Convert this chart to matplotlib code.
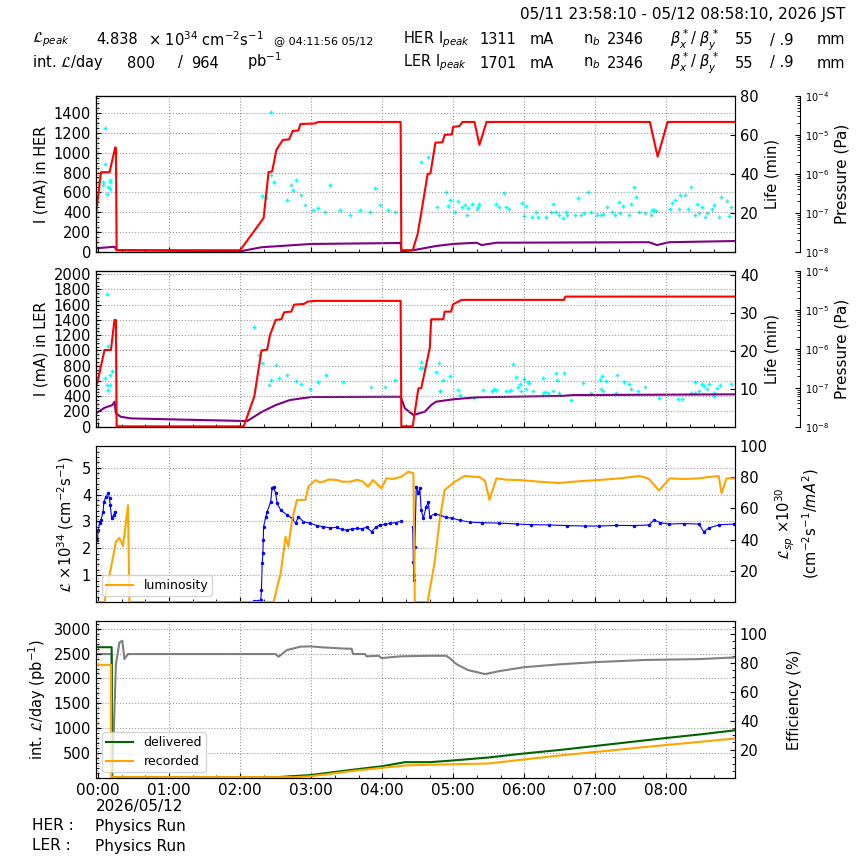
import matplotlib
matplotlib.use('Agg')
import matplotlib.pyplot as plt
from matplotlib.ticker import AutoMinorLocator, MultipleLocator, FixedLocator, LogLocator, NullFormatter, FuncFormatter

plt.rcParams['font.size'] = 10.5
plt.rcParams['mathtext.fontset'] = 'dejavusans'

nan = float('nan')

# ---- data (time in hours from 05/12 00:00) ----
her_I_t = [-0.03, 0.04, 0.16, 0.24, 0.25, 0.26, 2.0, 2.33, 2.40, 2.45, 2.51, 2.60, 2.69, 2.74, 2.82, 2.85, 3.05, 3.10, 4.26, 4.27,
           4.43, 4.50, 4.57, 4.64, 4.68, 4.75, 4.85, 4.88, 4.98, 5.00, 5.09, 5.13, 5.30, 5.37, 5.47, 7.77, 7.88, 8.02, 8.97]
her_I = [388, 803, 803, 1052, 1052, 15, 15, 339, 805, 810, 1028, 1129, 1135, 1220, 1225, 1290, 1295, 1311, 1311, 15,
         15, 179, 477, 785, 790, 1102, 1105, 1180, 1185, 1260, 1270, 1311, 1311, 1079, 1311, 1311, 960, 1311, 1311]

her_P_t = [-0.03, 0.23, 0.26, 1.0, 2.0, 2.3, 3.0, 4.26, 4.27, 4.45, 4.76, 5.0, 5.33, 5.40, 5.61, 7.76, 7.87, 8.04, 8.97]
her_P = [1.22e-8, 1.34e-8, 1.1e-8, 1.06e-8, 1.02e-8, 1.3e-8, 1.58e-8, 1.67e-8, 1.02e-8, 1.1e-8, 1.4e-8, 1.58e-8,
         1.7e-8, 1.48e-8, 1.7e-8, 1.75e-8, 1.48e-8, 1.75e-8, 1.88e-8]

her_life_t = [0.07, 0.075, 0.09, 0.09, 0.13, 0.14, 0.16, 0.16, 0.17,
              2.31, 2.36, 2.43, 2.43, 2.47, 2.66, 2.71, 2.75, 2.79, 2.85,
              2.92, 3.02, 3.1, 3.2, 3.27, 3.41, 3.55, 3.69, 3.83, 3.9,
              3.97, 4.08, 4.18, 4.27, 4.55, 4.65, 4.77, 4.9, 4.93, 4.95,
              5.02, 5.07, 5.12, 5.16, 5.19, 5.21, 5.26, 5.33, 5.35, 5.37,
              5.61, 5.65, 5.72, 5.75, 5.79, 5.97, 6.0, 6.03, 6.11, 6.17,
              6.19, 6.31, 6.38, 6.41, 6.45, 6.49, 6.54, 6.59, 6.61, 6.71,
              6.76, 6.8, 6.84, 6.9, 6.94, 7.02, 7.08, 7.11, 7.16, 7.23,
              7.28, 7.33, 7.35, 7.39, 7.47, 7.5, 7.54, 7.57, 7.62, 7.7,
              7.78, 7.8, 7.83, 7.85, 8.05, 8.08, 8.12, 8.18, 8.2, 8.26,
              8.31, 8.35, 8.4, 8.43, 8.46, 8.5, 8.54, 8.57, 8.64, 8.67,
              8.75, 8.77, 8.85, 8.89, 8.91]
her_life = [36, 34.3, 63.4, 45, 29.7, 33.4, 36.8, 32.2, 36,
            28.6, 27.6, 71.7, 39.3, 35.8, 26.6, 34.3, 31.7, 36.8, 29,
            24, 21.4, 22.4, 20.5, 34.3, 21.4, 18.9, 21.4, 20.5, 32.7,
            24, 21.4, 20.5, 20.6, 46.2, 48.8, 22.8, 30.5, 23.5, 26.6,
            20.6, 26.1, 23.1, 24, 18.9, 22.3, 24.4, 21.8, 23.1, 24.5,
            24.4, 23.1, 30, 22.8, 21.8, 24.9, 18.3, 23.5, 17.7, 20.6,
            18, 18, 20.4, 24.4, 20.2, 18.9, 17.2, 20.2, 18.9, 18.9,
            27.4, 18.9, 20, 30.5, 20.6, 18.9, 18.9, 19.4, 22.8, 20.6,
            18.9, 25.7, 19.7, 23.5, 18.9, 24.4, 33.1, 28.3, 20.2, 19.7,
            18.9, 21.4, 21.4, 21.0, 21.8, 24.9, 26.6, 21.8, 29.1, 29.1,
            21.8, 33.1, 18.9, 24.4, 20, 22.8, 17.7, 19.7, 21.8, 24,
            18, 28.3, 26.1, 18.3, 22.8]

ler_I_t = [-0.03, 0.09, 0.18, 0.23, 0.25, 0.26, 2.05, 2.2, 2.3, 2.38, 2.42, 2.5, 2.58, 2.62, 2.72, 2.76, 2.9, 2.95, 3.05, 4.26,
           4.27, 4.43, 4.51, 4.55, 4.67, 4.69, 4.86, 4.88, 4.97, 5.0, 5.12, 6.56, 6.58, 8.97]
ler_I = [504, 1006, 1006, 1400, 1400, 5, 5, 400, 1000, 1010, 1200, 1400, 1410, 1500, 1510, 1600, 1610, 1640, 1650, 1650,
         5, 5, 504, 504, 1029, 1409, 1409, 1509, 1509, 1606, 1663, 1663, 1706, 1706]

ler_P_t = [-0.03, 0.09, 0.2, 0.23, 0.25, 0.32, 0.46, 1.0, 2.1, 2.3, 2.5, 2.7, 3.0, 4.26, 4.32, 4.44, 4.6, 4.69, 4.76,
           5.0, 5.33, 6.54, 6.68, 8.97]
ler_P = [2.2e-8, 3.07e-8, 3.6e-8, 4.4e-8, 2.2e-8, 1.8e-8, 1.64e-8, 1.55e-8, 1.4e-8, 2.38e-8, 3.6e-8, 4.85e-8, 5.8e-8,
         5.9e-8, 2.97e-8, 2.0e-8, 2.43e-8, 3.6e-8, 4.4e-8, 5.06e-8, 5.7e-8, 6.2e-8, 6.5e-8, 6.8e-8]

ler_life_t = [0.1, 0.13, 0.13, 0.14, 0.145, 0.16, 0.16, 0.2,
              2.19, 2.26, 2.31, 2.4, 2.44, 2.5, 2.55, 2.66, 2.79, 2.85,
              2.99, 3.1, 3.21, 3.45, 3.84, 4.04, 4.18,
              4.53, 4.55, 4.56, 4.76, 4.8, 4.81, 4.82, 4.86, 4.95, 5.07,
              5.09, 5.29, 5.42, 5.54, 5.58, 5.61, 5.75, 5.78, 5.82, 5.84,
              5.88, 5.91, 5.94, 5.96, 6.0, 6.03, 6.05, 6.07, 6.12, 6.26,
              6.27, 6.29, 6.33, 6.4, 6.45, 6.46, 6.49, 6.56, 6.66, 6.83,
              6.94, 7.07, 7.08, 7.1, 7.11, 7.15, 7.29, 7.31, 7.4, 7.47,
              7.5, 7.61, 7.7, 7.9, 8.16, 8.22, 8.35, 8.4, 8.41, 8.46,
              8.5, 8.53, 8.57, 8.61, 8.67, 8.68, 8.71, 8.76, 8.92]
ler_life = [12.8, 35.1, 11.1, 21.2, 9.7, 11.1, 13.7, 14.8,
            26.4, 19, 16.9, 11.1, 12.4, 16.2, 12.9, 13.7, 12.2, 11.4,
            10.0, 11.9, 13.7, 11.9, 10.6, 10.6, 12.4,
            15.6, 17.2, 15.6, 14.4, 16.8, 9.3, 9.5, 12.4, 13.4, 9.7,
            8.4, 7.5, 9.7, 9.3, 10, 9.7, 9.3, 9.3, 9.7, 16.6,
            13.1, 10.6, 11.2, 9.3, 12.7, 10, 11.9, 11.5, 9.3, 8.9,
            12.8, 9.1, 8.9, 9.3, 14.2, 12.4, 9.0, 14.2, 7.1, 11.5,
            8.9, 12.4, 10.0, 13.4, 9.3, 12.1, 9.0, 13.7, 11.8, 11.2,
            10, 9.3, 10.4, 7.5, 7.3, 7.3, 8.9, 11.8, 8.9, 9.5,
            11.2, 10.8, 9.9, 11.2, 8.1, 8.9, 10.2, 10.9, 11.3]

lum_t = [-0.03, 0.09, 0.16, 0.25, 0.30, 0.35, 0.42, 0.44, 2.47, 2.57,
         2.64, 2.68, 2.73, 2.80, 2.92, 2.96, 3.06, 3.12, 3.17, 3.25,
         3.36, 3.45, 3.55, 3.65, 3.73, 3.80, 3.87, 3.99, 4.06, 4.15,
         4.27, 4.37, 4.44, 4.46, 4.64, 4.74, 4.81, 4.88, 5.02, 5.16,
         5.37, 5.45, 5.51, 5.61, 5.75, 5.93, 6.2, 6.49, 6.8, 7.05,
         7.35, 7.62, 7.75, 7.9, 8.05, 8.25, 8.46, 8.6, 8.74, 8.78,
         8.85, 8.97]
lum = [0, 0, 1.0, 2.24, 2.39, 2.08, 3.6, 0, 0, 1.07,
       2.43, 2.06, 3.05, 3.8, 3.8, 4.29, 4.54, 4.45, 4.48, 4.56,
       4.54, 4.47, 4.48, 4.55, 4.48, 4.29, 4.54, 4.23, 4.6, 4.58,
       4.66, 4.85, 4.79, 0, 0, 1.5, 3.05, 4.17, 4.47, 4.69,
       4.65, 4.5, 3.8, 4.6, 4.55, 4.54, 4.48, 4.43, 4.5, 4.54,
       4.6, 4.69, 4.6, 4.15, 4.6, 4.58, 4.6, 4.65, 4.69, 4.05,
       4.6, 4.6]

lsp_t = [-0.01, 0.0, 0.02, 0.04, 0.07, 0.08, 0.11, 0.14, 0.16, 0.17,
         0.19, 0.22, 0.24, nan, 2.19, 2.29, 2.30, 2.31, 2.32, 2.325,
         2.33, 2.36, 2.38, 2.43, 2.45, 2.47, 2.50, 2.52, 2.57, 2.66,
         2.73, 2.78, 2.82, 2.89, 2.99, 3.08, 3.17, 3.27, 3.36, 3.43,
         3.50, 3.57, 3.64, 3.71, 3.78, 3.85, 3.91, 3.97, 4.04, 4.11,
         4.19, 4.27, nan, 4.43, 4.44, 4.445, 4.45, 4.46, 4.48, 4.51,
         4.53, 4.55, 4.58, 4.62, 4.65, 4.67, 4.74, 4.81, 4.9, 4.99,
         5.1, 5.23, 5.4, 5.65, 5.9, 6.1, 6.35, 6.6, 6.85, 7.05,
         7.3, 7.55, 7.76, 7.83, 7.92, 8.04, 8.25, 8.46, 8.53, 8.6,
         8.75, 8.95]
lsp = [39.7, 46, 50.4, 52.6, 57.9, 64.3, 67.5, 69.7, 66.5, 62.2,
       53.7, 55.8, 57.9, nan, 0.5, 1.3, 7.7, 24.8, 31.2, 39.7,
       48.3, 54.7, 57.9, 64.3, 72.9, 73.9, 69.7, 63.3, 59, 55.8,
       53.7, 50.4, 54.7, 51.5, 50.4, 49.0, 48.3, 47.5, 47.9, 46.5,
       46.2, 46.8, 47.2, 46.9, 47.9, 45.1, 48.0, 49.4, 49.8, 50.4,
       50.9, 51.9, nan, 48.3, 25.8, 17.3, 14.1, 35.4, 73.9, 69.7,
       72.9, 59, 53.7, 61.1, 64.3, 54.7, 56.5, 55.8, 54.2, 53.7,
       52.3, 51.3, 50.8, 50.6, 50.0, 49.6, 49.4, 49.0, 48.7, 48.7,
       49.1, 49.0, 49.4, 52.6, 50.8, 50.0, 50.3, 50.0, 45.0, 47.5,
       49.5, 50.0]

del_t = [-0.03, 0.19, 0.195, 2.52, 3.0, 3.5, 4.0, 4.32, 4.67, 5.0, 5.5, 6.0, 6.5, 7.0, 7.5, 8.0, 8.5, 8.97]
delivered = [2626, 2626, 26, 26, 70, 160, 245, 326, 326, 360, 420, 500, 570, 650, 730, 810, 885, 964]
rec_t = [-0.03, 0.18, 0.185, 2.78, 3.0, 3.64, 4.32, 4.67, 5.0, 5.5, 6.0, 6.5, 7.0, 7.5, 8.0, 8.5, 8.97]
recorded = [2273, 2273, 26, 26, 46, 160, 260, 274, 285, 300, 380, 460, 530, 600, 670, 735, 800]
eff_t = [-0.03, 0.19, 0.2, 0.25, 0.3, 0.34, 0.37, 0.42, 2.5, 2.54, 2.66, 2.85, 2.99, 3.17, 3.5, 3.57, 3.59, 3.76,
         3.78, 3.95, 3.99, 4.25, 4.67, 4.9, 4.95, 5.05, 5.21, 5.45, 5.65, 6.0, 6.5, 7.0, 7.7, 8.46, 8.95]
eff = [86.1, 86.1, 2, 79, 94.2, 95.3, 82.6, 86.1, 86.1, 84.2, 88.9, 91.2, 91.4, 90.7, 89.8, 89.8, 86.1, 86.1,
       84.5, 84.9, 83.3, 84.5, 84.9, 84.9, 83.3, 79, 75, 72.2, 74.3, 77, 79, 80.5, 82, 82.6, 83.7]

hour_labels = ['00:00', '01:00', '02:00', '03:00', '04:00', '05:00', '06:00', '07:00', '08:00']

XMIN, XMAX = -0.0306, 8.9694

fig = plt.figure(figsize=(8.64, 8.64), dpi=100)
L, W = 0.1111, 0.7396
boxes = [(0.7087, 0.1802), (0.5061, 0.1802), (0.3032, 0.1806), (0.0990, 0.1823)]
axs = [fig.add_axes([L, b, W, h]) for b, h in boxes]


def base_style(ax):
    ax.set_xlim(XMIN, XMAX)
    ax.xaxis.set_major_locator(MultipleLocator(1))
    ax.xaxis.set_minor_locator(MultipleLocator(1 / 3))
    ax.yaxis.set_minor_locator(AutoMinorLocator())
    ax.tick_params(which='both', direction='in')
    ax.grid(True, which='major', ls=':', color='gray', lw=0.8, alpha=0.8)
    ax.tick_params(axis='x', labelbottom=False)


def right_axis(ax, ylim, ticks, label, minor=False):
    r = ax.twinx()
    r.set_ylim(*ylim)
    r.yaxis.set_major_locator(FixedLocator(ticks))
    if minor:
        r.yaxis.set_minor_locator(AutoMinorLocator(4))
    r.tick_params(which='both', direction='in')
    r.set_ylabel(label)
    return r


def pressure_axis(ax):
    p = ax.twinx()
    p.spines['right'].set_position(('axes', 1.1017))
    p.set_yscale('log')
    p.set_ylim(1e-8, 1e-4)
    p.yaxis.set_major_locator(LogLocator(base=10, numticks=10))
    p.yaxis.set_minor_locator(LogLocator(base=10, subs=[2, 3, 4, 5, 6, 7, 8, 9], numticks=10))
    p.yaxis.set_minor_formatter(NullFormatter())
    p.tick_params(which='both', direction='in', labelsize=7)
    p.set_ylabel('Pressure (Pa)', fontsize=11)
    return p


# panel 1: HER
ax = axs[0]
base_style(ax)
ax.set_ylim(0, 1311 * 1.2)
ax.yaxis.set_major_locator(FixedLocator(range(0, 1401, 200)))
ax.set_ylabel('I (mA) in HER')
life1 = right_axis(ax, (0, 80), [20, 40, 60, 80], 'Life (min)')
p1 = pressure_axis(ax)
p1.plot(her_P_t, her_P, color='purple', lw=1.5)
life1.plot(her_life_t, her_life, ls='none', marker='+', ms=3.5, mew=1, color='cyan')
ax.set_zorder(life1.get_zorder() + 2)
ax.patch.set_visible(False)
ax.plot(her_I_t, her_I, color='red', lw=1.5)

# panel 2: LER
ax = axs[1]
base_style(ax)
ax.set_ylim(0, 1701 * 1.2)
ax.yaxis.set_major_locator(FixedLocator(range(0, 2001, 200)))
ax.set_ylabel('I (mA) in LER')
life2 = right_axis(ax, (0, 41.1), [10, 20, 30, 40], 'Life (min)')
p2 = pressure_axis(ax)
p2.plot(ler_P_t, ler_P, color='purple', lw=1.5)
life2.plot(ler_life_t, ler_life, ls='none', marker='+', ms=3.5, mew=1, color='cyan')
ax.set_zorder(life2.get_zorder() + 2)
ax.patch.set_visible(False)
ax.plot(ler_I_t, ler_I, color='red', lw=1.5)

# panel 3: luminosity
ax = axs[2]
base_style(ax)
ax.set_ylim(0, 4.838 * 1.2)
ax.yaxis.set_major_locator(FixedLocator([1, 2, 3, 4, 5]))
ax.set_ylabel(r'$\mathcal{L}$ $\times 10^{34}$ (cm$^{-2}$s$^{-1}$)')
sp = right_axis(ax, (0, 100), [20, 40, 60, 80, 100],
                '$\\mathcal{L}_{sp}$ $\\times 10^{30}$\n(cm$^{-2}$s$^{-1}$/$mA^2$)')
sp.plot(lsp_t, lsp, color='blue', lw=0.8, marker='.', ms=3)
ax.set_zorder(sp.get_zorder() + 1)
ax.patch.set_visible(False)
ax.plot(lum_t, lum, color='orange', lw=1.5, label='luminosity')
ax.legend(loc='lower left', fontsize=9, borderpad=0.3, handlelength=2.2)

# panel 4: integrated luminosity
ax = axs[3]
base_style(ax)
ax.set_ylim(0, 2626 * 1.2)
ax.yaxis.set_major_locator(FixedLocator([500, 1000, 1500, 2000, 2500, 3000]))
ax.set_ylabel(r'int. $\mathcal{L}$/day (pb$^{-1}$)')
ef = right_axis(ax, (0, 109), [20, 40, 60, 80, 100], 'Efficiency (%)', minor=True)
ef.yaxis.labelpad = 14
ef.plot(eff_t, eff, color='gray', lw=1.5)
ax.set_zorder(ef.get_zorder() + 1)
ax.patch.set_visible(False)
ax.plot(del_t, delivered, color='darkgreen', lw=1.5, label='delivered')
ax.plot(rec_t, recorded, color='orange', lw=1.5, label='recorded')
ax.legend(loc='lower left', fontsize=9, borderpad=0.3, handlelength=2.2)
ax.tick_params(axis='x', labelbottom=True, labelsize=11)
ax.xaxis.set_major_formatter(FuncFormatter(lambda v, pos: hour_labels[int(round(v))] if 0 <= round(v) < len(hour_labels) else ''))

# header text
def ft(x, y, s, **kw):
    fig.text(x / 864, 1 - y / 864, s, va='center', **kw)

ft(845, 15, '05/11 23:58:10 - 05/12 08:58:10, 2026 JST', ha='right', fontsize=11)
ft(32, 40, r'$\mathcal{L}_{peak}$')
ft(96, 40, '4.838')
ft(148, 40, r'$\times$ 10$^{34}$ cm$^{-2}$s$^{-1}$')
ft(274, 41, '@ 04:11:56 05/12', fontsize=8)
ft(32, 63, r'int. $\mathcal{L}$/day')
ft(127, 63, '800')
ft(178, 63, '/')
ft(191, 63, '964')
ft(247, 61, 'pb$^{-1}$')
for y, ring, ipk in [(40, 'HER', '1311'), (63, 'LER', '1701')]:
    ft(403, y, ring + ' I$_{peak}$')
    ft(479, y, ipk)
    ft(530, y, 'mA')
    ft(583, y, 'n$_b$')
    ft(607, y, '2346')
    ft(670, y, r'$\beta_x^*$/ $\beta_y^*$')
    ft(735, y, '55')
    ft(770, y, '/ .9')
    ft(817, y, 'mm')

ft(140, 806, '2026/05/12', ha='center', fontsize=11)
ft(32, 826, 'HER :', fontsize=11)
ft(95, 826, 'Physics Run', fontsize=11)
ft(32, 846, 'LER :', fontsize=11)
ft(95, 846, 'Physics Run', fontsize=11)

fig.savefig('out.png', dpi=100)
